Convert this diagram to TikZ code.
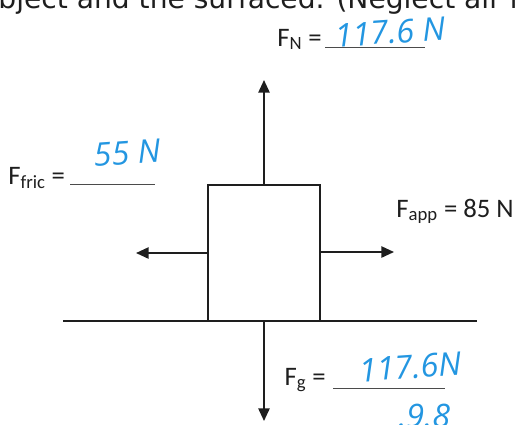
\documentclass[tikz,border=0pt]{standalone}
\usepackage{fontspec}
\setmainfont{Carlito}
\newfontfamily\handfont{Open Sans}
\newfontfamily\typedfont{DejaVu Sans}
\usepackage{tikz}
\usetikzlibrary{arrows.meta, positioning, calc}
\definecolor{inkblue}{RGB}{35,150,225}
\definecolor{pencil}{RGB}{30,30,30}

\begin{document}
\begin{tikzpicture}[
  x=0.025cm, y=-0.025cm,
  label/.style={font=\fontsize{19}{21}\selectfont, text=pencil, inner sep=0pt},
  answer/.style={font=\handfont\itshape\fontsize{23}{25}\selectfont, text=inkblue, inner sep=0pt},
  blank/.style={line width=0.7pt, draw=pencil!80},
  force/.style={-{Triangle[length=9pt, width=8pt]}, line width=1.3pt, draw=pencil},
  body/.style={rectangle, draw=pencil, line width=1.3pt, minimum width=2.8cm, minimum height=3.4cm}
]
  \useasboundingbox (0,0) rectangle (518,424);
  \clip (0,0) rectangle (518,424);

  %% leftover line of the question
  \node[anchor=base west, font=\typedfont\fontsize{20}{22}\selectfont, text=pencil, inner sep=0pt] (question)
    at (-19,8) {object and the surfaced. (Neglect air resistance};

  %% block and floor
  \node[body] (box) at (264,253) {};
  \coordinate (floorL) at (63,321);
  \coordinate (floorR) at (477,321);
  \draw[line width=1.3pt, draw=pencil] (floorL) -- (floorR);

  %% force arrows
  \coordinate (tipN) at (264,80);
  \coordinate (tipG) at (264,421);
  \coordinate (tipF) at (136,253);
  \coordinate (tipA) at (394,252);
  \draw[force] (box.north) -- (tipN);
  \draw[force] (box.south) -- (tipG);
  \draw[force] (box.west) -- (tipF);
  \draw[force] (box.east |- tipA) -- (tipA);

  %% normal force
  \node[label, anchor=base east] (fn) at (322,46) {F\textsubscript{N} =};
  \coordinate (fnL) at (325,47);
  \coordinate (fnR) at (425,47);
  \draw[blank] (fnL) -- (fnR);
  \node[answer, rotate=4] (fnval) at (390,32) {117.6 N};

  %% friction
  \node[label, anchor=base west] (ffric) at (8,184) {F\textsubscript{fric} =};
  \coordinate (frL) at (70,184);
  \coordinate (frR) at (155,184);
  \draw[blank] (frL) -- (frR);
  \node[answer, rotate=4] (frval) at (127,153) {55 N};

  %% applied force
  \node[label, anchor=base east] (fapp) at (514,217) {F\textsubscript{app} = 85 N};

  %% gravity
  \node[label, anchor=base east] (fg) at (326,385) {F\textsubscript{g} =};
  \coordinate (fgL) at (333,388);
  \coordinate (fgR) at (445,388);
  \draw[blank] (fgL) -- (fgR);
  \node[answer, rotate=4] (fgval) at (410,367) {117.6N};
  \node[answer, anchor=north west] (mass) at (398,404) {.9.8};
\end{tikzpicture}
\end{document}
